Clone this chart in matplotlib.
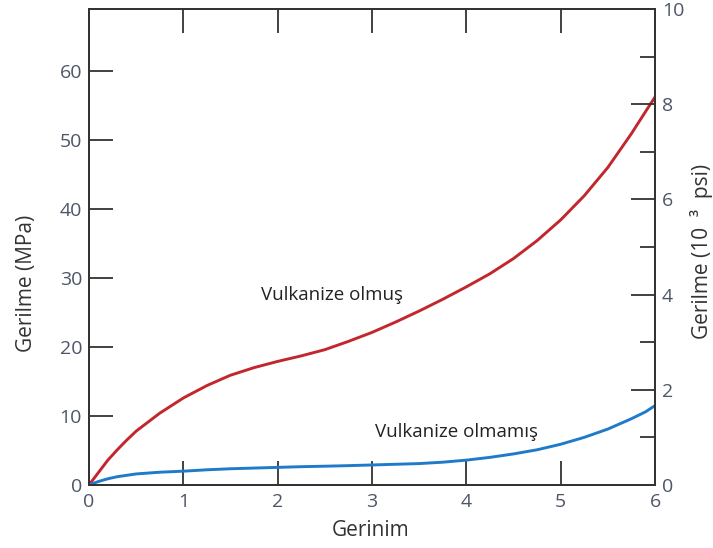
import matplotlib
matplotlib.use("Agg")
import matplotlib.pyplot as plt
from matplotlib.ticker import MultipleLocator

plt.rcParams['font.family'] = ['Open Sans', 'DejaVu Sans']

# strain (Gerinim) and stress in MPa
strain = [0, 0.05, 0.1, 0.2, 0.3, 0.4, 0.5, 0.75, 1.0, 1.25, 1.5, 1.75, 2.0, 2.25, 2.5, 2.75,
          3.0, 3.25, 3.5, 3.75, 4.0, 4.25, 4.5, 4.75, 5.0, 5.25, 5.5, 5.75, 5.9, 6.0]
stress_vulcanized = [0, 0.9, 1.8, 3.6, 5.1, 6.5, 7.8, 10.4, 12.6, 14.4, 15.9, 17.0, 17.9, 18.7, 19.6, 20.8,
                     22.1, 23.6, 25.2, 26.9, 28.7, 30.6, 32.8, 35.4, 38.4, 41.9, 46.0, 50.9, 54.1, 56.2]
stress_unvulcanized = [0, 0.25, 0.5, 0.9, 1.2, 1.4, 1.6, 1.85, 2.0, 2.2, 2.35, 2.45, 2.55, 2.65, 2.72, 2.8,
                       2.9, 3.0, 3.1, 3.3, 3.6, 4.0, 4.5, 5.1, 5.9, 6.9, 8.1, 9.6, 10.6, 11.5]

MPA_PER_KSI = 6.895
ksi_max = 10

red = '#c1272d'
blue = '#1f7ac9'
dark = '#333333'
label_gray = '#4d5566'

fig = plt.figure(figsize=(7.13, 5.48), dpi=100)
ax = fig.add_axes([0.1248, 0.115, 0.7939, 0.8686])

ax.plot(strain, stress_vulcanized, color=red, lw=2.1, solid_joinstyle='round', solid_capstyle='round')
ax.plot(strain, stress_unvulcanized, color=blue, lw=2.1, solid_joinstyle='round', solid_capstyle='round')

ax.set_xlim(0, 6)
ax.set_ylim(0, ksi_max * MPA_PER_KSI)
ax.xaxis.set_major_locator(MultipleLocator(1))
ax.yaxis.set_major_locator(MultipleLocator(10))

ax.tick_params(axis='both', direction='in', length=17, width=1.3, color=dark,
               labelsize=14, labelcolor=label_gray, pad=5)
ax.tick_params(axis='x', top=True, pad=6)
ax.tick_params(axis='y', right=False)

for s in ax.spines.values():
    s.set_linewidth(1.3)
    s.set_color(dark)

# right axis in 10^3 psi
ax2 = ax.twinx()
ax2.set_ylim(0, ksi_max)
ax2.yaxis.set_major_locator(MultipleLocator(2))
ax2.yaxis.set_minor_locator(MultipleLocator(1))
ax2.tick_params(axis='y', which='major', direction='in', length=17, width=1.3, color=dark,
                labelsize=14, labelcolor=label_gray, pad=5)
ax2.tick_params(axis='y', which='minor', direction='in', length=11, width=1.3, color=dark)
for s in ax2.spines.values():
    s.set_linewidth(1.3)
    s.set_color(dark)

ax.set_xlabel('Gerinim', fontsize=15, color=dark)
ax.xaxis.label.set_va('center')
ax.xaxis.set_label_coords(0.498, -0.0966)

ax.set_ylabel('Gerilme (MPa)', fontsize=15, color=dark)
ax.yaxis.label.set_va('center')
ax.yaxis.set_label_coords(-0.111, 0.424)

ax2.set_ylabel('Gerilme (10  ³  psi)', fontsize=15, color=dark)
ax2.yaxis.label.set_va('center')
ax2.yaxis.set_label_coords(1.0825, 0.49)

ax.text(1.82, 26.8, 'Vulkanize olmuş', fontsize=13.5, color='#222222', va='baseline', ha='left')
ax.text(3.03, 7.0, 'Vulkanize olmamış', fontsize=13.5, color='#222222', va='baseline', ha='left')

fig.savefig('out.png', dpi=100, facecolor='white')
